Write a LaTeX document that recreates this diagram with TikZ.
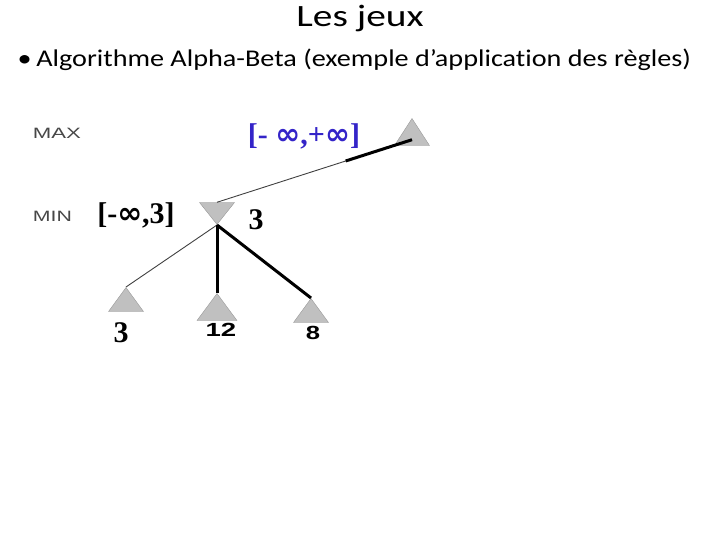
\documentclass[tikz,border=0pt]{standalone}
\usepackage{fontspec}
\setmainfont{Carlito}[Ligatures=NoCommon]
\newfontfamily\serifbold{Liberation Serif}
\newfontfamily\arialfont{Liberation Sans}
\newfontfamily\infont{DejaVu Sans}
\usepackage{xcolor}
\usepackage{tikz}
\usetikzlibrary{positioning,shapes.geometric,calc}

\definecolor{triangray}{RGB}{192,192,192}
\definecolor{alphablue}{RGB}{52,36,200}
\newcommand{\infsym}{{\infont\bfseries ∞}}

\begin{document}
\begin{tikzpicture}[
  x=1pt, y=-1pt,
  tri/.style={isosceles triangle,isosceles triangle stretches,draw=gray!80,fill=triangray,
    inner sep=0pt,minimum width=35pt,minimum height=24pt},
  maxtri/.style={tri,shape border rotate=90},
  mintri/.style={tri,shape border rotate=270,minimum height=22pt},
  level/.style={text=black!72,font=\arialfont\fontsize{15}{15}\selectfont},
  bound/.style={font=\serifbold\bfseries\fontsize{30}{30}\selectfont},
  leafval/.style={font=\arialfont\bfseries\fontsize{19}{19}\selectfont},
  thin/.style={draw=black!75,line width=0.9pt},
  thick/.style={draw=black,line width=3pt}
]
\useasboundingbox (0,0) rectangle (720,540);

% titre et texte
\node[anchor=base,font=\fontsize{31}{31}\selectfont] (title) at (360,27)
  {\scalebox{1.27}[1]{Les jeux}};
\node[anchor=base west,font=\fontsize{24}{24}\selectfont] (bullet) at (14,67)
  {\scalebox{1.175}[1]{\textbullet\hspace{4pt}Algorithme Alpha-Beta (exemple d’application des règles)}};

% niveaux
\node[level] (maxlbl) at (57,133.5) {\scalebox{1.48}[1]{MAX}};
\node[level] (minlbl) at (52.5,216.5) {\scalebox{1.42}[1]{MIN}};

% arbre
\node[maxtri,anchor=apex,minimum height=27pt] (root) at (412,118) {};
\node[mintri,anchor=apex] (mn) at (217,225) {};
\node[maxtri,anchor=apex] (leafa) at (126,287) {};
\node[maxtri,anchor=apex,minimum width=40pt,minimum height=27pt] (leafb) at (217,293) {};
\node[maxtri,anchor=apex] (leafc) at (311,298) {};

\coordinate (rootend) at ($(root.lower side)+(0,-6)$);
\coordinate (cut) at ($(mn.lower side)!0.66!(rootend)$);
\draw[thin] (mn.lower side) -- (rootend);
\draw[thick] (cut) -- (rootend);
\draw[thin] (mn.apex) -- (leafa.apex);
\draw[thick] (mn.apex) -- (leafb.apex);
\draw[thick] (mn.apex) -- (leafc.apex);

% valeurs
\node[bound,text=alphablue] (rootbound) at (304,136) {[- \infsym,+\infsym]};
\node[bound] (mnbound) at (136,215) {[-\infsym,3]};
\node[bound] (mnval) at (256,220) {3};
\node[bound] (leafaval) at (121,333) {3};
\node[leafval] (leafbval) at (221,330) {\scalebox{1.45}[1]{12}};
\node[leafval] (leafcval) at (313,333) {\scalebox{1.35}[1]{8}};
\end{tikzpicture}
\end{document}
